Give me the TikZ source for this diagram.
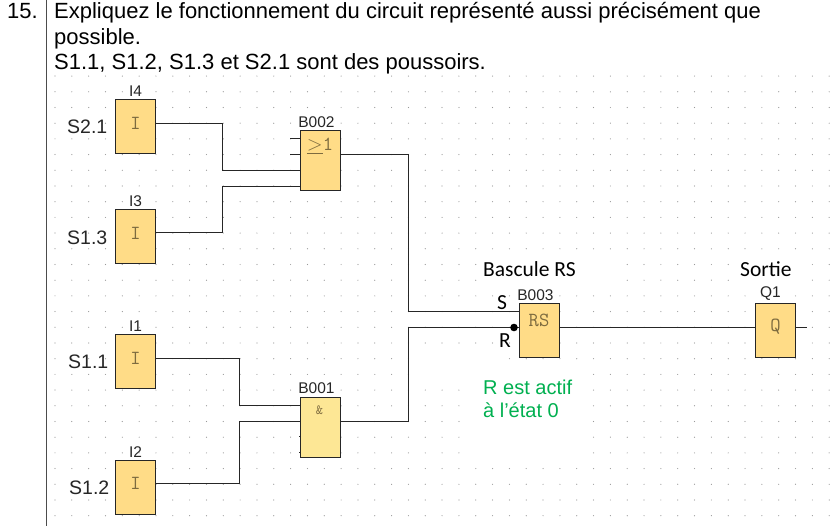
\documentclass[tikz,border=0pt]{standalone}
\usepackage{fontspec}
\setmainfont{Liberation Sans}
\newfontfamily\notefont{Carlito}
\usetikzlibrary{positioning}
\definecolor{blockfill}{HTML}{FFDC87}
\definecolor{andfill}{HTML}{FDE795}
\definecolor{symcolor}{HTML}{7D6B3F}
\definecolor{activegreen}{HTML}{00B050}
\tikzset{
  blockbox/.style = {draw = black!85, fill = blockfill, line width = 1.2pt, minimum width = 40pt, minimum height = 54pt, inner sep = 0pt, outer sep = 0pt},
  glyph/.style = {font = \ttfamily\fontsize{20}{20}\selectfont, text = symcolor, inner sep = 0pt},
  tagname/.style = {font = \fontsize{15.5}{15.5}\selectfont, text = black!85, inner sep = 0pt},
  switchname/.style = {font = \fontsize{19.5}{19.5}\selectfont, text = black!85, inner sep = 0pt},
  question/.style = {font = \fontsize{22}{22}\selectfont, anchor = base west, inner sep = 0pt},
  note/.style = {font = \notefont\fontsize{21.5}{21.5}\selectfont, anchor = base west, inner sep = 0pt},
  greennote/.style = {font = \fontsize{20}{20}\selectfont, text = activegreen, anchor = base west, inner sep = 0pt},
  wire/.style = {draw = black!85, line width = 1.2pt},
  griddot/.style = {fill = black!40}
}
\begin{document}
\begin{tikzpicture}[x = 1pt, y = -1pt]
      \useasboundingbox (0,0) rectangle (836,526);
      % grid of the editor
      \foreach \col in {0,...,46}
        \foreach \row in {0,...,28}
          \fill[griddot] ({55+16.83*\col},{76.1+15.7*\row}) circle (0.6pt);
      \fill[white] (478,252) rectangle (620,288);
      \fill[white] (735,252) rectangle (797,288);
      \fill[white] (465,381) rectangle (588,461);
      \fill[white] (412,367) rectangle (588,381);
      \fill[white] (412,352) rectangle (503,366);
      % question
      \draw[black!70, line width = 1pt] (46.5,0) -- (46.5,526);
      \node[question] (num) at (7,18.5) {15.};
      \node[question] (line1) at (54,19) {Expliquez le fonctionnement du circuit représenté aussi précisément que};
      \node[question] (line2) at (54,45) {possible.};
      \node[question] (line3) at (54,70) {S1.1, S1.2, S1.3 et S2.1 sont des poussoirs.};
      % blocks
      \node[blockbox] (i4) at (135.5,126.5) {};
      \node[blockbox] (i3) at (135.5,236.5) {};
      \node[blockbox] (i1) at (135.5,361.5) {};
      \node[blockbox] (i2) at (135.5,487.5) {};
      \node[blockbox, minimum height = 60pt] (b002) at (320.5,160.5) {};
      \node[blockbox, minimum height = 60pt, fill = andfill] (b001) at (320.5,427.5) {};
      \node[blockbox] (b003) at (539.5,330.5) {};
      \node[blockbox] (q1) at (775.5,330.5) {};
      % block symbols
      \node[glyph] (i4-sym) at (135.5,123) {I};
      \node[glyph] (i3-sym) at (135.5,233) {I};
      \node[glyph] (i1-sym) at (135.5,358.5) {I};
      \node[glyph] (i2-sym) at (135.5,483.5) {I};
      \node[glyph] (b002-sym) at (320,146) {$\underline{>}$1};
      \node[glyph, font = \ttfamily\fontsize{14}{14}\selectfont] (b001-sym) at (319.5,410) {\&};
      \node[glyph] (b003-sym) at (539,320) {RS};
      \node[glyph] (q1-sym) at (775.5,327) {Q};
      % names
      \node[tagname, above = 3pt of i4] (i4-tag) {I4};
      \node[tagname, above = 3pt of i3] (i3-tag) {I3};
      \node[tagname, above = 3pt of i1] (i1-tag) {I1};
      \node[tagname, above = 3pt of i2] (i2-tag) {I2};
      \node[tagname, above = 3pt of b002, xshift = -4pt] (b002-tag) {B002};
      \node[tagname, above = 4pt of b001, xshift = -4pt] (b001-tag) {B001};
      \node[tagname, above = 3pt of b003, xshift = -4pt] (b003-tag) {B003};
      \node[tagname, above = 3pt of q1, xshift = -5pt] (q1-tag) {Q1};
      \node[switchname, left = 8pt of i4] (s21) {S2.1};
      \node[switchname, left = 8pt of i3, yshift = -1pt] (s13) {S1.3};
      \node[switchname, left = 7pt of i1] (s11) {S1.1};
      \node[switchname, left = 6pt of i2] (s12) {S1.2};
      \node[note] (rs-note) at (483,277) {Bascule RS};
      \node[note] (out-note) at (740,277) {Sortie};
      \node[note] (s-pin) at (497,310) {S};
      \node[note] (r-pin) at (499,348) {R};
      \node[greennote] (active1) at (483,395) {R est actif};
      \node[greennote] (active2) at (483,418) {à l’état 0};
      % wires
      \draw[wire] ([yshift = 3pt]i4.east) -| (222.5,170.5) -- ([yshift = -10pt]b002.west);
      \draw[wire] ([yshift = 4pt]i3.east) -| (222.5,186.5) -- ([yshift = -26pt]b002.west);
      \draw[wire] ([yshift = 3pt]i1.east) -| (239.5,405.5) -- ([yshift = 22pt]b001.west);
      \draw[wire] ([yshift = 4pt]i2.east) -| (239.5,421.5) -- ([yshift = 6pt]b001.west);
      \draw[wire] ([yshift = 6pt]b002.east) -| (408.5,311.5) -- ([yshift = 19pt]b003.west);
      \draw[wire] ([yshift = 6pt]b001.east) -| (408.5,327.5) -- ([yshift = 3pt]b003.west);
      \draw[wire] ([yshift = 3pt]b003.east) -- ([yshift = 3pt]q1.west);
      \draw[wire] ([yshift = 3pt]q1.east) -- ++(11,0);
      \draw[wire] ([yshift = 22pt]b002.west) -- ++(-11,0);
      \draw[wire] ([yshift = 6pt]b002.west) -- ++(-11,0);
      \draw[wire] ([yshift = -9pt]b001.west) -- ++(-2,0);
      \draw[wire] ([yshift = -25pt]b001.west) -- ++(-2,0);
      \fill[black] (514,327.5) circle (3.8pt);
\end{tikzpicture}
\end{document}
